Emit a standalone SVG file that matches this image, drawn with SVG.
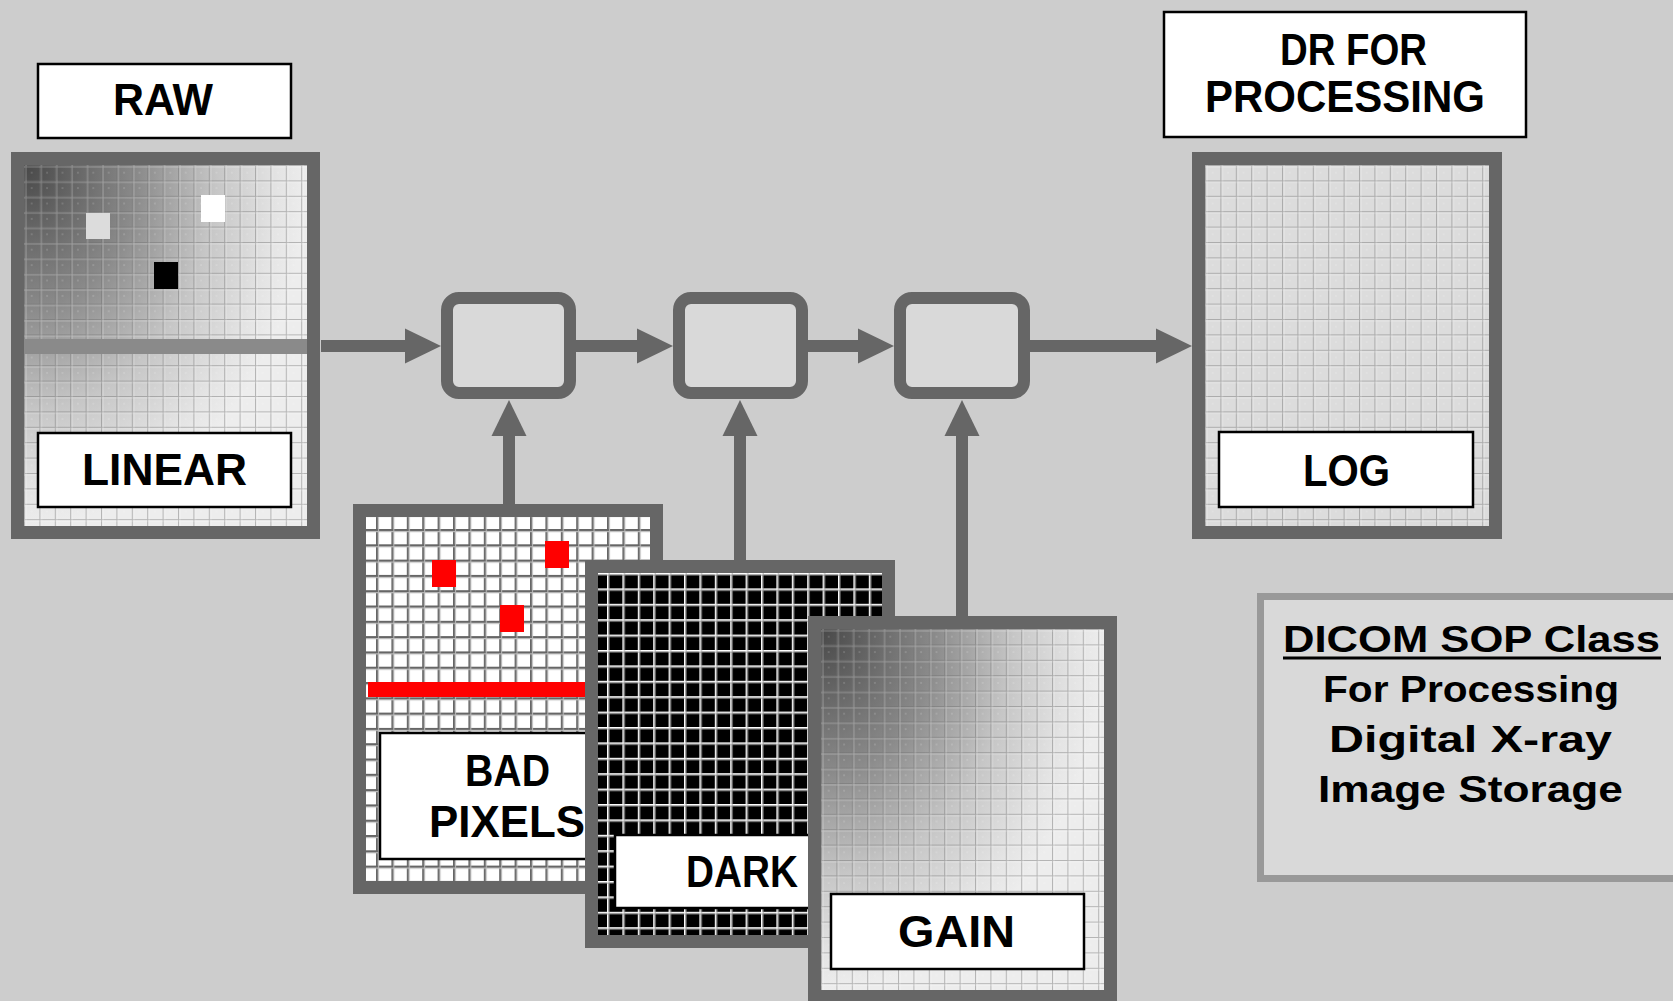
<svg xmlns="http://www.w3.org/2000/svg" width="1673" height="1001" viewBox="0 0 1673 1001">
<style>
.frame{fill:none;stroke:#666;stroke-width:13}
.label{fill:#fff;stroke:#000;stroke-width:2.5}
.lt{font-family:"Liberation Sans",Arial,sans-serif;font-weight:bold;font-size:44px;fill:#000}
.dt{font-family:"Liberation Sans",Arial,sans-serif;font-weight:bold;font-size:37px;fill:#000}
.proc{fill:#d9d9d9;stroke:#666;stroke-width:12}
.conn{stroke:#666;stroke-width:12;fill:none;marker-end:url(#ah)}
</style>
<defs>
<marker id="ah" markerUnits="userSpaceOnUse" markerWidth="36" markerHeight="35" refX="6" refY="17.5" orient="auto" overflow="visible">
<path d="M0,0 L36,17.5 L0,35 Z" fill="#666"/>
</marker>
<radialGradient id="shade" cx="0" cy="0" r="1" fx="0" fy="0">
<stop offset="0" stop-color="#484848"/>
<stop offset="0.4" stop-color="#8a8a8a"/>
<stop offset="0.68" stop-color="#c6c6c6"/>
<stop offset="0.9" stop-color="#e4e4e4"/>
<stop offset="1" stop-color="#ededed"/>
</radialGradient>
<pattern id="gridSoft" patternUnits="userSpaceOnUse" width="15.4" height="15.4">
<path d="M0 0.5H15.4M0.5 0V15.4" stroke="#6e6e6e" stroke-opacity="0.45" stroke-width="1.1"/>
<path d="M0 2H15.4M2 0V15.4" stroke="#fff" stroke-opacity="0.3" stroke-width="1"/>
<rect x="7.2" y="7.2" width="1" height="1" fill="#fff" fill-opacity="0.5"/>
</pattern>
<pattern id="gridBad" patternUnits="userSpaceOnUse" x="10" y="12" width="15.4" height="15.3">
<rect width="15.4" height="15.3" fill="#fff"/>
<path d="M0 0.9H15.4M0.9 0V15.3" stroke="#666" stroke-width="1.8"/>
<path d="M0 2.5H15.4M2.5 0V15.3" stroke="#bbb" stroke-width="1"/>
</pattern>
<pattern id="gridDark" patternUnits="userSpaceOnUse" x="9" y="0" width="15.4" height="15.4">
<rect width="15.4" height="15.4" fill="#000"/>
<path d="M0 0.8H15.4M0.8 0V15.4" stroke="#fff" stroke-width="1.6"/>
<path d="M0 2.1H15.4M2.1 0V15.4" stroke="#999" stroke-width="0.8"/>
</pattern>
</defs>
<rect width="1673" height="1001" fill="#cdcdcd"/>

<g id="raw">
<rect class="label" x="38" y="64" width="253" height="74"/>
<text class="lt" x="113" y="115" textLength="100" lengthAdjust="spacingAndGlyphs">RAW</text>
<g transform="translate(24,165)">
<rect width="283" height="361" fill="url(#shade)"/>
<rect width="283" height="361" fill="url(#gridSoft)"/>
<rect x="0" y="174" width="283" height="15" fill="#8a8a8a"/>
<rect class="frame" x="-6.5" y="-6.5" width="296" height="374"/>
</g>
<rect x="86" y="213" width="24" height="26" fill="#dcdcdc"/>
<rect x="201" y="195" width="24" height="27" fill="#fff"/>
<rect x="154" y="262" width="24" height="27" fill="#000"/>
<rect class="label" x="38" y="433" width="253" height="74"/>
<text class="lt" x="82" y="485" textLength="165" lengthAdjust="spacingAndGlyphs">LINEAR</text>
</g>

<g id="proc1"><rect class="proc" x="447" y="298" width="123" height="95" rx="12"/></g>
<g id="proc2"><rect class="proc" x="679" y="298" width="123" height="95" rx="12"/></g>
<g id="proc3"><rect class="proc" x="900" y="298" width="124" height="95" rx="12"/></g>

<g id="dr">
<rect class="label" x="1164" y="12" width="362" height="125"/>
<text class="lt" x="1280" y="65" textLength="147" lengthAdjust="spacingAndGlyphs">DR FOR</text>
<text class="lt" x="1205" y="112" textLength="280" lengthAdjust="spacingAndGlyphs">PROCESSING</text>
<g transform="translate(1205,165)">
<rect width="284" height="361" fill="#dcdcdc"/>
<rect width="284" height="361" fill="url(#gridSoft)"/>
<rect class="frame" x="-6.5" y="-6.5" width="297" height="374"/>
</g>
<rect class="label" x="1219" y="432" width="254" height="75"/>
<text class="lt" x="1303" y="486" textLength="87" lengthAdjust="spacingAndGlyphs">LOG</text>
</g>

<g id="badpixels">
<g transform="translate(366,517)">
<rect width="284" height="364" fill="url(#gridBad)"/>
<rect class="frame" x="-6.5" y="-6.5" width="297" height="377"/>
</g>
<rect x="432" y="560" width="24" height="27" fill="#f00"/>
<rect x="545" y="541" width="24" height="27" fill="#f00"/>
<rect x="500" y="605" width="24" height="27" fill="#f00"/>
<rect x="368" y="682" width="270" height="15" fill="#f00"/>
<rect class="label" x="380" y="733" width="253" height="126"/>
<text class="lt" x="465" y="786" textLength="85" lengthAdjust="spacingAndGlyphs">BAD</text>
<text class="lt" x="429" y="837" textLength="156" lengthAdjust="spacingAndGlyphs">PIXELS</text>
</g>

<g id="dark">
<g transform="translate(598,573)">
<rect width="284" height="362" fill="url(#gridDark)"/>
<rect class="frame" x="-6.5" y="-6.5" width="297" height="375"/>
</g>
<rect class="label" x="615" y="835" width="253" height="73"/>
<text class="lt" x="686" y="887" textLength="112" lengthAdjust="spacingAndGlyphs">DARK</text>
</g>

<g id="gain">
<g transform="translate(821,629)">
<rect width="283" height="361" fill="url(#shade)"/>
<rect width="283" height="361" fill="url(#gridSoft)"/>
<rect class="frame" x="-6.5" y="-6.5" width="296" height="374"/>
</g>
<rect class="label" x="831" y="894" width="253" height="75"/>
<text class="lt" x="898" y="947" textLength="117" lengthAdjust="spacingAndGlyphs">GAIN</text>
</g>

<g id="dicom">
<rect x="1260.5" y="596.5" width="500" height="282" fill="#d9d9d9" stroke="#999" stroke-width="7"/>
<text class="dt" x="1283" y="652" textLength="377" lengthAdjust="spacingAndGlyphs">DICOM SOP Class</text>
<line x1="1283" y1="658" x2="1661" y2="658" stroke="#000" stroke-width="3"/>
<text class="dt" x="1323" y="702" textLength="296" lengthAdjust="spacingAndGlyphs">For Processing</text>
<text class="dt" x="1329" y="752" textLength="283" lengthAdjust="spacingAndGlyphs">Digital X-ray</text>
<text class="dt" x="1318" y="802" textLength="305" lengthAdjust="spacingAndGlyphs">Image Storage</text>
</g>

<g id="connectors">
<line class="conn" x1="321" y1="346" x2="411" y2="346"/>
<line class="conn" x1="576" y1="346" x2="643" y2="346"/>
<line class="conn" x1="808" y1="346" x2="864" y2="346"/>
<line class="conn" x1="1030" y1="346" x2="1162" y2="346"/>
<line class="conn" x1="509" y1="506" x2="509" y2="430"/>
<line class="conn" x1="740" y1="560" x2="740" y2="430"/>
<line class="conn" x1="962" y1="616" x2="962" y2="430"/>
</g>
</svg>
